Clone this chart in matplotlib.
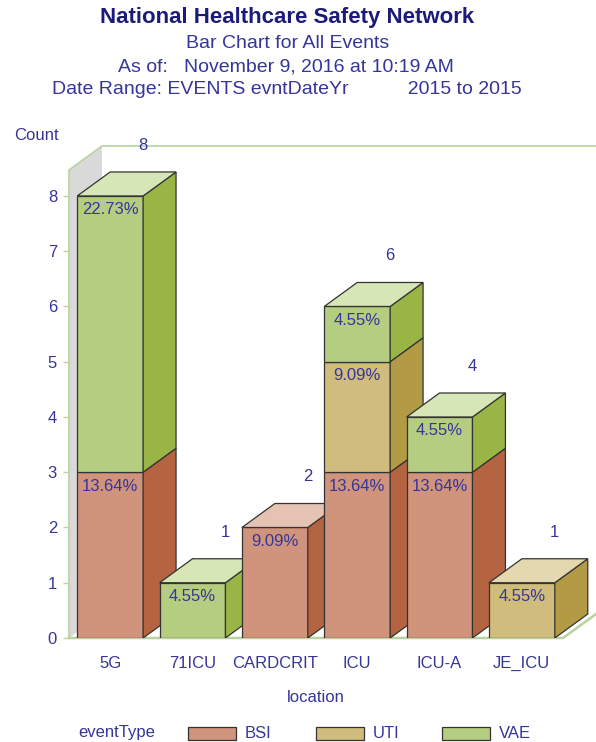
import matplotlib
matplotlib.use("Agg")
import matplotlib.pyplot as plt
from matplotlib.patches import Polygon, Rectangle

plt.rcParams['font.family'] = ['Liberation Sans', 'DejaVu Sans']

# data (counts per location and event type)
locations = ['5G', '71ICU', 'CARDCRIT', 'ICU', 'ICU-A', 'JE_ICU']
event_types = ['BSI', 'UTI', 'VAE']
bsi = [3, 0, 2, 3, 3, 0]
uti = [0, 0, 0, 2, 0, 1]
vae = [5, 1, 0, 1, 1, 0]
yticks = [0, 1, 2, 3, 4, 5, 6, 7, 8]

# face colours: front, side, top
colors = {
    'BSI': ('#d0937b', '#b56442', '#e6c2b3'),
    'UTI': ('#d0bd7d', '#b39b45', '#e4d8b1'),
    'VAE': ('#b5cd80', '#98b546', '#d7e6b7'),
}
edge = '#333333'
text_col = '#35359a'
title_col = '#1c1c78'
axis_green = '#b8d3a0'

W, H = 596, 742
DX, DY = 0.4, 0.434     # depth offset of the fake 3d, in data units
WALL_TOP = 8.47
BW = 0.8

fig = plt.figure(figsize=(W / 100, H / 100), dpi=100)
ax = fig.add_axes([69 / W, (H - 638) / H, (W - 69) / W, (638 - 146) / H])
ax.set_xlim(-0.5, 5.5 + DX)
ax.set_ylim(0, WALL_TOP + DY)
for s in ax.spines.values():
    s.set_visible(False)

# left wall + floor
ax.add_patch(Polygon([(-0.5, 0), (-0.5, WALL_TOP), (-0.5 + DX, WALL_TOP + DY), (-0.5 + DX, DY)],
                     closed=True, facecolor='#d9d9d9', edgecolor='none', zorder=1))
ax.plot([-0.5, -0.5, -0.5 + DX, 5.5 + DX], [0, WALL_TOP, WALL_TOP + DY, WALL_TOP + DY],
        color=axis_green, lw=1.2, zorder=2, clip_on=False)
ax.plot([-0.5, 5.5, 5.5 + DX], [0, 0, DY], color=axis_green, lw=1.8, zorder=2, clip_on=False)

series = {'BSI': bsi, 'UTI': uti, 'VAE': vae}
total_all = sum(bsi) + sum(uti) + sum(vae)

for i, loc in enumerate(locations):
    z = 10 + i
    bottom = 0
    segs = [(et, series[et][i]) for et in event_types if series[et][i] > 0]
    for k, (et, cnt) in enumerate(segs):
        front, side, top = colors[et]
        ax.bar(i, cnt, bottom=bottom, width=BW, color=front, edgecolor=edge, lw=0.9, zorder=z)
        x1 = i + BW / 2
        ax.add_patch(Polygon([(x1, bottom), (x1 + DX, bottom + DY), (x1 + DX, bottom + cnt + DY),
                              (x1, bottom + cnt)], closed=True, facecolor=side, edgecolor=edge,
                             lw=0.9, zorder=z))
        if k == len(segs) - 1:
            t = bottom + cnt
            x0 = i - BW / 2
            ax.add_patch(Polygon([(x0, t), (x0 + DX, t + DY), (x1 + DX, t + DY), (x1, t)],
                                 closed=True, facecolor=top, edgecolor=edge, lw=0.9, zorder=z))
        pct = 100.0 * cnt / total_all
        ax.text(i, bottom + cnt - 0.25, '%.2f%%' % pct, ha='center', va='center',
                color=text_col, fontsize=12, zorder=z + 0.5)
        bottom += cnt
    ax.text(i + BW / 2, bottom + DY + 0.48, str(bottom), ha='center', va='center',
            color=text_col, fontsize=12, zorder=30)

ax.set_xticks([])
ax.set_yticks(yticks)
ax.set_yticklabels([str(v) for v in yticks])
ax.tick_params(axis='y', direction='out', length=4.3, width=1, color=axis_green,
               labelcolor=text_col, labelsize=12, pad=4.3)

for i, loc in enumerate(locations):
    ax.text(i, -(663 - 638) / 55.25, loc, ha='center', va='center', color=text_col, fontsize=12)

# titles
fig.text(287 / W, 1 - 18 / H, 'National Healthcare Safety Network', ha='center', va='center',
         color=title_col, fontsize=16, fontweight='bold')
fig.text(288 / W, 1 - 44 / H, 'Bar Chart for All Events', ha='center', va='center',
         color=text_col, fontsize=14)
fig.text(286 / W, 1 - 67 / H, 'As of:   November 9, 2016 at 10:19 AM', ha='center', va='center',
         color=text_col, fontsize=14)
fig.text(287 / W, 1 - 90 / H, 'Date Range: EVENTS evntDateYr           2015 to 2015', ha='center',
         va='center', color=text_col, fontsize=14)

fig.text(14 / W, 1 - 135 / H, 'Count', ha='left', va='center', color=text_col, fontsize=12)
fig.text(316 / W, 1 - 698 / H, 'location', ha='center', va='center', color=text_col, fontsize=12)

# legend
fig.text(78 / W, 1 - 733 / H, 'eventType', ha='left', va='center', color=text_col, fontsize=12)
leg_x = [188, 316, 442]
for et, lx in zip(event_types, leg_x):
    fig.patches.append(Rectangle((lx / W, 1 - 740 / H), 48 / W, 13 / H, transform=fig.transFigure,
                                 facecolor=colors[et][0], edgecolor=edge, lw=0.9))
    fig.text((lx + 57) / W, 1 - 733 / H, et, ha='left', va='center', color=text_col, fontsize=12)

fig.savefig('out.png', dpi=100, facecolor='white')
